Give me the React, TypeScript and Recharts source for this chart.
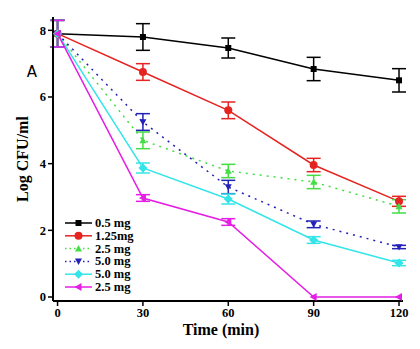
import React from 'react';
import { LineChart, Line, XAxis, YAxis, ErrorBar } from 'recharts';

const times = [0, 30, 60, 90, 120];
const xTicks = [0, 30, 60, 90, 120];
const yTicks = [0, 2, 4, 6, 8];

const s05 = [7.9, 7.8, 7.47, 6.84, 6.5];
const e05 = [0.4, 0.4, 0.3, 0.35, 0.35];
const s125 = [7.9, 6.75, 5.6, 3.96, 2.87];
const e125 = [0.4, 0.25, 0.25, 0.2, 0.15];
const s25 = [7.9, 4.7, 3.78, 3.45, 2.72];
const e25 = [0.4, 0.25, 0.2, 0.2, 0.2];
const s50 = [7.9, 5.25, 3.3, 2.18, 1.5];
const e50 = [0.4, 0.25, 0.2, 0.1, 0.05];
const s50b = [7.9, 3.87, 2.94, 1.71, 1.02];
const e50b = [0.4, 0.15, 0.15, 0.1, 0.08];
const s25b = [7.9, 2.97, 2.25, 0, 0];
const e25b = [0.4, 0.1, 0.1, 0, 0];

const legendLabels = ['0.5 mg', '1.25mg', '2.5 mg', '5.0 mg', '5.0 mg', '2.5 mg'];

const data = times.map((t, i) => ({
  t,
  s05: s05[i], e05: e05[i],
  s125: s125[i], e125: e125[i],
  s25: s25[i], e25: e25[i],
  s50: s50[i], e50: e50[i],
  s50b: s50b[i], e50b: e50b[i],
  s25b: s25b[i], e25b: e25b[i],
}));

const FONT = '"Liberation Serif", "Times New Roman", serif';

type Shape = 'square' | 'circle' | 'up' | 'down' | 'diamond' | 'left';

const series: { key: string; err: string; color: string; shape: Shape; dash?: string }[] = [
  { key: 's05', err: 'e05', color: '#000000', shape: 'square' },
  { key: 's125', err: 'e125', color: '#e52320', shape: 'circle' },
  { key: 's25', err: 'e25', color: '#44dd44', shape: 'up', dash: '2 5' },
  { key: 's50', err: 'e50', color: '#2222b8', shape: 'down', dash: '2 5' },
  { key: 's50b', err: 'e50b', color: '#33e5e8', shape: 'diamond' },
  { key: 's25b', err: 'e25b', color: '#e41ee4', shape: 'left' },
];

function marker(shape: Shape, cx: number, cy: number, color: string, key?: any) {
  const s = 3.5;
  switch (shape) {
    case 'square':
      return <rect key={key} x={cx - 3} y={cy - 3} width={6} height={6} fill={color} />;
    case 'circle':
      return <circle key={key} cx={cx} cy={cy} r={4} fill={color} />;
    case 'up':
      return <polygon key={key} points={`${cx},${cy - s} ${cx - s},${cy + s * 0.8} ${cx + s},${cy + s * 0.8}`} fill={color} />;
    case 'down':
      return <polygon key={key} points={`${cx},${cy + s} ${cx - s},${cy - s * 0.8} ${cx + s},${cy - s * 0.8}`} fill={color} />;
    case 'diamond':
      return <polygon key={key} points={`${cx},${cy - 4.5} ${cx + 4.5},${cy} ${cx},${cy + 4.5} ${cx - 4.5},${cy}`} fill={color} />;
    case 'left':
      return <polygon key={key} points={`${cx - 4},${cy} ${cx + 3},${cy - 4} ${cx + 3},${cy + 4}`} fill={color} />;
  }
}

const YLabel = () => (
  <g>
    <text x={22} y={159} transform="rotate(-90 22 159)" textAnchor="middle" dominantBaseline="central"
      fontFamily={FONT} fontWeight="bold" fontSize={16} fill="#000">Log CFU/ml</text>
    <text x={32} y={72} textAnchor="middle" dominantBaseline="central"
      fontFamily='"DejaVu Sans", sans-serif' fontSize={15} fill="#000">A</text>
  </g>
);

const XLabel = () => (
  <text x={221} y={329} textAnchor="middle" dominantBaseline="central"
    fontFamily={FONT} fontWeight="bold" fontSize={16} fill="#000">Time (min)</text>
);

const Legend = () => (
  <svg width={90} height={90} style={{ position: 'absolute', left: 60, top: 214 }}>
    {series.map((s, i) => {
      const y = 9 + i * 12.8;
      return (
        <g key={s.key}>
          <line x1={5} x2={32} y1={y} y2={y} stroke={s.color} strokeWidth={1.5}
            strokeDasharray={s.dash ? '1.5 3' : undefined} />
          {marker(s.shape, 18.5, y, s.color)}
          <text x={35} y={y} dominantBaseline="central" fontFamily={FONT} fontWeight="bold"
            fontSize={12.5} fill="#000">{legendLabels[i]}</text>
        </g>
      );
    })}
  </svg>
);

export default function App() {
  return (
    <div style={{ position: 'absolute', left: 0, top: 0, width: 420, height: 349, background: '#fff' }}>
      <LineChart width={420} height={349} data={data}
        margin={{ top: 17, right: 17, left: 0, bottom: 0 }}>
        <XAxis dataKey="t" type="number" domain={[-1.6, 121.4]} ticks={xTicks}
          height={48} stroke="#000" strokeWidth={2} tickSize={5} tickLine={{ strokeWidth: 1.5 }}
          tick={{ fontFamily: FONT, fontWeight: 'bold', fontSize: 12.5, fill: '#000' }}
          label={<XLabel />} allowDataOverflow />
        <XAxis xAxisId="top" orientation="top" dataKey="t" type="number" domain={[-1.6, 121.4]}
          height={0} tick={false} tickLine={false} stroke="#000" strokeWidth={2} />
        <YAxis type="number" domain={[-0.12, 8.4]} ticks={yTicks} width={53}
          stroke="#000" strokeWidth={2} tickSize={5} tickLine={{ strokeWidth: 1.5 }}
          tick={{ fontFamily: FONT, fontWeight: 'bold', fontSize: 12.5, fill: '#000' }}
          label={<YLabel />} allowDataOverflow />
        <YAxis yAxisId="right" orientation="right" type="number" domain={[-0.12, 8.4]}
          width={0} tick={false} tickLine={false} stroke="#000" strokeWidth={2} />
        {series.map((s) => (
          <Line key={s.key} dataKey={s.key} stroke={s.color} strokeWidth={1.5}
            strokeDasharray={s.dash} isAnimationActive={false}
            dot={(p: any) => marker(s.shape, p.cx, p.cy, s.color, p.key ?? `${s.key}-${p.index}`)}
            activeDot={false}>
            <ErrorBar dataKey={s.err} width={7} stroke={s.color} strokeWidth={1.5} direction="y" />
          </Line>
        ))}
      </LineChart>
      <Legend />
    </div>
  );
}
